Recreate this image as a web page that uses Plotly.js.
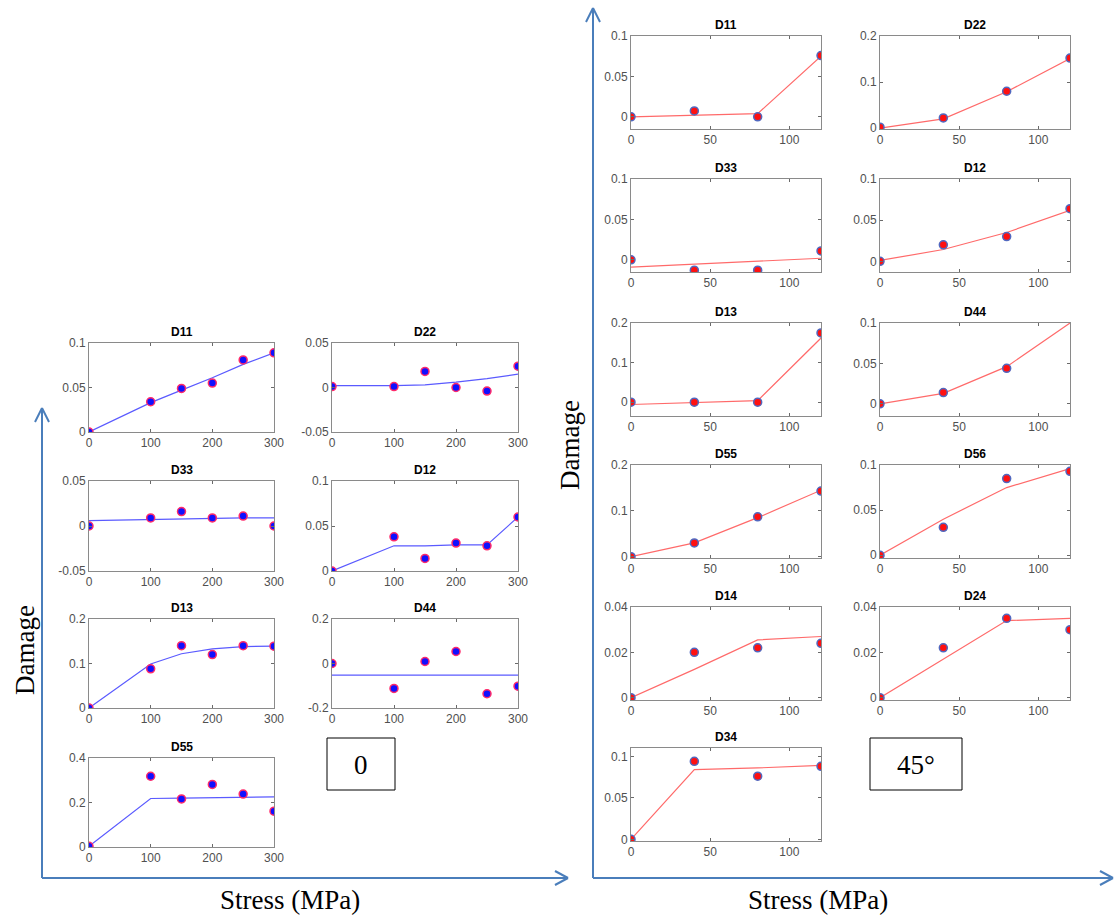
<!DOCTYPE html>
<html>
<head>
<meta charset="utf-8">
<script src="https://cdn.plot.ly/plotly-3.0.1.min.js"></script>
<style>html,body{margin:0;padding:0;background:#fff;}#chart{width:1115px;height:917px;}</style>
</head>
<body>
<div id="chart"></div>
<script>
// ---------------- DATA ----------------
const stressLeft = [0, 100, 150, 200, 250, 300];
const stressRight = [0, 40, 80, 120];
const leftXTicks = [0, 100, 200, 300];
const rightXTicks = [0, 50, 100];

// 0 degree panel (measured points and fitted curve)
const L_D11_pts = [0, 0.034, 0.049, 0.055, 0.081, 0.089];
const L_D11_fit = [0, 0.033, 0.047, 0.061, 0.076, 0.089];
const L_D22_pts = [0.001, 0.001, 0.018, 0, -0.004, 0.024];
const L_D22_fit = [0.002, 0.002, 0.003, 0.006, 0.010, 0.015];
const L_D33_pts = [0, 0.009, 0.016, 0.009, 0.011, 0];
const L_D33_fit = [0.006, 0.0075, 0.008, 0.0085, 0.009, 0.009];
const L_D12_pts = [0, 0.038, 0.014, 0.031, 0.028, 0.060];
const L_D12_fit = [0, 0.028, 0.028, 0.029, 0.029, 0.060];
const L_D13_pts = [0, 0.088, 0.140, 0.120, 0.140, 0.139];
const L_D13_fit = [0, 0.099, 0.122, 0.133, 0.138, 0.139];
const L_D44_pts = [0, -0.112, 0.009, 0.054, -0.136, -0.102];
const L_D44_fit = [-0.052, -0.052, -0.052, -0.052, -0.052, -0.052];
const L_D55_pts = [0.003, 0.318, 0.216, 0.281, 0.238, 0.161];
const L_D55_fit = [0.003, 0.218, 0.220, 0.222, 0.224, 0.225];

// 45 degree panel
const R_D11_pts = [0, 0.0074, 0, 0.0758];
const R_D11_fit = [0, 0.002, 0.004, 0.075];
const R_D22_pts = [0.002, 0.022, 0.080, 0.152];
const R_D22_fit = [0, 0.020, 0.079, 0.151];
const R_D33_pts = [0, -0.0127, -0.0127, 0.011];
const R_D33_fit = [-0.009, -0.0053, -0.0017, 0.002];
const R_D12_pts = [0, 0.020, 0.030, 0.064];
const R_D12_fit = [0.001, 0.0143, 0.035, 0.062];
const R_D13_pts = [0, 0, 0, 0.175];
const R_D13_fit = [-0.006, -0.001, 0.004, 0.162];
const R_D44_pts = [0, 0.014, 0.044, null];
const R_D44_fit = [0, 0.013, 0.046, 0.1];
const R_D55_pts = [0, 0.030, 0.087, 0.143];
const R_D55_fit = [0, 0.030, 0.085, 0.145];
const R_D56_pts = [0, 0.031, 0.085, 0.093];
const R_D56_fit = [0, 0.040, 0.075, 0.096];
const R_D14_pts = [0, 0.020, 0.022, 0.024];
const R_D14_fit = [0, 0.0125, 0.0255, 0.027];
const R_D24_pts = [0, 0.022, 0.035, 0.030];
const R_D24_fit = [0, 0.017, 0.034, 0.035];
const R_D34_pts = [0, 0.094, 0.076, 0.088];
const R_D34_fit = [0, 0.084, 0.086, 0.089];

// ---------------- LAYOUT HELPERS ----------------
const W = 1115, H = 917;
const fx = p => p / W;
const fy = p => 1 - p / H;

const leftCols = [[89, 274], [332, 518]];
const leftRows = [[343, 432], [481, 571], [619, 708], [758, 847]];
const rightCols = [[631, 821], [880, 1070]];
const rightRows = [[36, 129], [179, 272], [323, 416], [465, 558], [607, 700], [748, 841]];

const panels = [
  {name:'D11', side:'L', c:0, r:0, pts:L_D11_pts, fit:L_D11_fit, yr:[0,0.1], yt:[0,0.05,0.1]},
  {name:'D22', side:'L', c:1, r:0, pts:L_D22_pts, fit:L_D22_fit, yr:[-0.05,0.05], yt:[-0.05,0,0.05]},
  {name:'D33', side:'L', c:0, r:1, pts:L_D33_pts, fit:L_D33_fit, yr:[-0.05,0.05], yt:[-0.05,0,0.05]},
  {name:'D12', side:'L', c:1, r:1, pts:L_D12_pts, fit:L_D12_fit, yr:[0,0.1], yt:[0,0.05,0.1]},
  {name:'D13', side:'L', c:0, r:2, pts:L_D13_pts, fit:L_D13_fit, yr:[0,0.2], yt:[0,0.1,0.2]},
  {name:'D44', side:'L', c:1, r:2, pts:L_D44_pts, fit:L_D44_fit, yr:[-0.2,0.2], yt:[-0.2,0,0.2]},
  {name:'D55', side:'L', c:0, r:3, pts:L_D55_pts, fit:L_D55_fit, yr:[0,0.4], yt:[0,0.2,0.4]},
  {name:'D11', side:'R', c:0, r:0, pts:R_D11_pts, fit:R_D11_fit, yr:[-0.015,0.1], yt:[0,0.05,0.1]},
  {name:'D22', side:'R', c:1, r:0, pts:R_D22_pts, fit:R_D22_fit, yr:[-0.002,0.2], yt:[0,0.1,0.2]},
  {name:'D33', side:'R', c:0, r:1, pts:R_D33_pts, fit:R_D33_fit, yr:[-0.015,0.1], yt:[0,0.05,0.1]},
  {name:'D12', side:'R', c:1, r:1, pts:R_D12_pts, fit:R_D12_fit, yr:[-0.013,0.1], yt:[0,0.05,0.1]},
  {name:'D13', side:'R', c:0, r:2, pts:R_D13_pts, fit:R_D13_fit, yr:[-0.035,0.2], yt:[0,0.1,0.2]},
  {name:'D44', side:'R', c:1, r:2, pts:R_D44_pts, fit:R_D44_fit, yr:[-0.015,0.1], yt:[0,0.05,0.1]},
  {name:'D55', side:'R', c:0, r:3, pts:R_D55_pts, fit:R_D55_fit, yr:[-0.003,0.2], yt:[0,0.1,0.2]},
  {name:'D56', side:'R', c:1, r:3, pts:R_D56_pts, fit:R_D56_fit, yr:[-0.003,0.1], yt:[0,0.05,0.1]},
  {name:'D14', side:'R', c:0, r:4, pts:R_D14_pts, fit:R_D14_fit, yr:[-0.001,0.04], yt:[0,0.02,0.04]},
  {name:'D24', side:'R', c:1, r:4, pts:R_D24_pts, fit:R_D24_fit, yr:[-0.001,0.04], yt:[0,0.02,0.04]},
  {name:'D34', side:'R', c:0, r:5, pts:R_D34_pts, fit:R_D34_fit, yr:[-0.002,0.11], yt:[0,0.05,0.1]}
];

const tickFont = {family:'Liberation Sans, Arial, sans-serif', size:12, color:'#505050'};
const axisCommon = {
  showgrid:false, zeroline:false, showline:true, linecolor:'#8a8a8a', linewidth:1,
  mirror:'ticks', ticks:'inside', ticklen:3, tickcolor:'#6a6a6a', tickwidth:1,
  tickfont:tickFont, fixedrange:true
};

const traces = [];
const layout = {
  width:W, height:H, margin:{l:0,r:0,t:0,b:0},
  paper_bgcolor:'#ffffff', plot_bgcolor:'#ffffff', showlegend:false,
  annotations:[], shapes:[]
};

panels.forEach((p, i) => {
  const n = i + 1;
  const sfx = n === 1 ? '' : String(n);
  const isL = p.side === 'L';
  const col = (isL ? leftCols : rightCols)[p.c];
  const row = (isL ? leftRows : rightRows)[p.r];
  const xs = isL ? stressLeft : stressRight;
  const xt = isL ? leftXTicks : rightXTicks;
  layout['xaxis' + sfx] = Object.assign({}, axisCommon, {
    domain:[fx(col[0]), fx(col[1])], range:isL ? [0,300] : [0,120],
    tickvals:xt, ticktext:xt.map(String), anchor:'y' + sfx
  });
  layout['yaxis' + sfx] = Object.assign({}, axisCommon, {
    domain:[fy(row[1]), fy(row[0])], range:p.yr,
    tickvals:p.yt, ticktext:p.yt.map(String), anchor:'x' + sfx
  });
  traces.push({
    type:'scatter', mode:'lines', x:xs, y:p.fit, xaxis:'x' + sfx, yaxis:'y' + sfx,
    line:{color:isL ? '#5a5aff' : '#ff6a6a', width:1.2}, hoverinfo:'skip', cliponaxis:true
  });
  traces.push({
    type:'scatter', mode:'markers', x:xs, y:p.pts, xaxis:'x' + sfx, yaxis:'y' + sfx,
    marker:isL ? {color:'#1010ff', size:8, line:{color:'#ff2a6a', width:1.5}}
               : {color:'#ff1010', size:8, line:{color:'#5068c0', width:1.5}},
    cliponaxis:true
  });
  layout.annotations.push({
    xref:'paper', yref:'paper', x:fx((col[0] + col[1]) / 2), y:fy(row[0] - 11),
    xanchor:'center', yanchor:'middle', showarrow:false,
    text:'<b>' + p.name + '</b>', font:{family:'Liberation Sans, Arial, sans-serif', size:12, color:'#000'}
  });
});

// Big axis labels (Times-like)
const serif = {family:'Liberation Serif, Times New Roman, serif', size:27, color:'#000'};
[
  {x:25, y:650, t:'Damage', rot:-90},
  {x:570, y:445, t:'Damage', rot:-90},
  {x:290, y:900, t:'Stress (MPa)', rot:0},
  {x:818, y:900, t:'Stress (MPa)', rot:0},
  {x:361, y:765, t:'0', rot:0},
  {x:916, y:765, t:'45°', rot:0}
].forEach(a => layout.annotations.push({
  xref:'paper', yref:'paper', x:fx(a.x), y:fy(a.y), xanchor:'center', yanchor:'middle',
  showarrow:false, text:a.t, textangle:a.rot, font:serif
}));

// Arrows and boxes
const arrowColor = '#4a7ebb';
function seg(x0, y0, x1, y1) {
  layout.shapes.push({type:'line', xref:'paper', yref:'paper', x0:fx(x0), y0:fy(y0), x1:fx(x1), y1:fy(y1),
    line:{color:arrowColor, width:2}});
}
// left panel
seg(42, 878, 42, 408); seg(42, 408, 35, 422); seg(42, 408, 49, 422);
seg(42, 878, 568, 878); seg(568, 878, 555, 871); seg(568, 878, 555, 885);
// right panel
seg(593, 878, 593, 8); seg(593, 8, 586, 22); seg(593, 8, 600, 22);
seg(593, 878, 1113, 878); seg(1113, 878, 1100, 871); seg(1113, 878, 1100, 885);

function box(x0, y0, x1, y1) {
  layout.shapes.push({type:'rect', xref:'paper', yref:'paper', x0:fx(x0), y0:fy(y1), x1:fx(x1), y1:fy(y0),
    line:{color:'#000', width:1}, fillcolor:'rgba(0,0,0,0)'});
}
box(327, 738, 395, 790);
box(870, 738, 962, 790);

Plotly.newPlot('chart', traces, layout, {staticPlot:true, displayModeBar:false});
</script>
</body>
</html>
